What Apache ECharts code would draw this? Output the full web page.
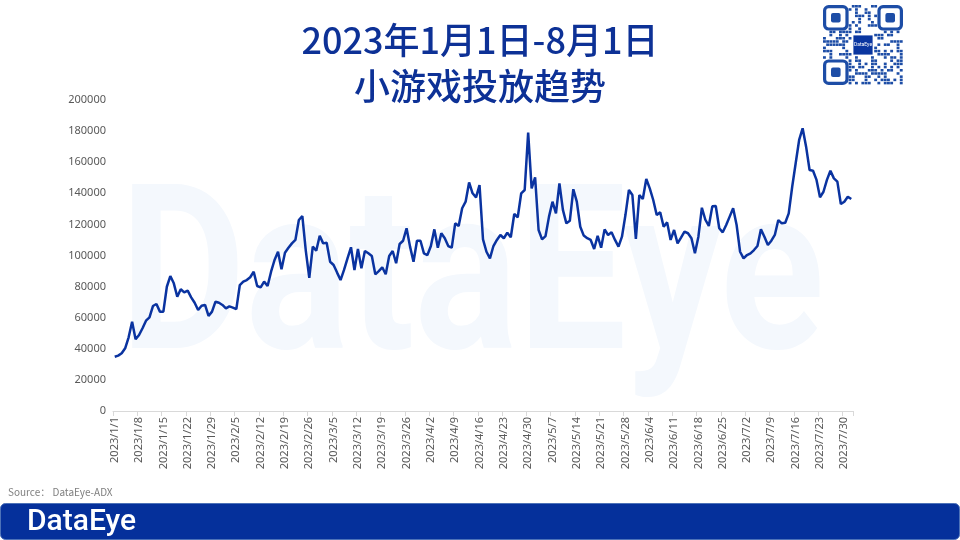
<!DOCTYPE html>
<html>
<head>
<meta charset="utf-8">
<script src="https://cdn.jsdelivr.net/npm/echarts@6/dist/echarts.min.js"></script>
<style>
html,body{margin:0;padding:0;background:#fff;}
#c{width:960px;height:540px;}
</style>
</head>
<body>
<div id="c"></div>
<script>
// ---- data (daily values, 2023/1/1 - 2023/8/1) ----
const janValues = [34900,35600,37100,40300,47400,57400,46100,48900,53200,58100,60200,67500,68800,63900,63900,79900,86800,82100,73500,78300,76300,77400,73100,69600,65000,67700,68200,61100,63900,70300,69600];
const febValues = [68200,66000,67300,66500,65500,81000,83200,84200,86000,89600,80400,79500,83200,80400,89600,97100,102400,91100,101800,105000,107800,110000,122800,125400,103000,85700,105700,103100];
const marValues = [112700,107800,108200,96000,93900,89000,84200,90700,98200,105300,90700,104200,91800,102900,101400,99700,87900,90000,92400,87900,99700,102900,95000,107400,109500,117500,105700,96000,109500,109500,101400];
const aprValues = [100300,106100,116800,105000,114300,111100,106100,105000,120700,119000,130400,134600,147000,140000,137400,145300,110400,102400,98200,106100,110000,113200,111100,114700,111700,126700,124600,140000,142100,179000];
const mayValues = [143200,150300,116400,110400,112500,125000,134600,127100,146400,129300,120700,122400,142600,134600,118500,112800,111100,110000,104200,112700,105000,116800,113200,114900,110000,105700,112100,126000,142100,138900,110600];
const junValues = [138900,136300,149200,143200,135700,126000,127800,118500,121300,110000,116400,107800,111500,115300,114300,111100,101400,112100,130700,123000,119000,131600,131800,117500,114900,119600,125000,130400,119600,102400];
const julValues = [98200,100300,101400,103500,106100,116800,112100,106800,109500,113200,122800,120700,121100,127100,144200,159300,174300,181800,170000,155000,154500,148600,137400,141000,148600,154500,149600,147500,133100,134600,137800];
const augValues = [136300];
const yTicks = [0,20000,40000,60000,80000,100000,120000,140000,160000,180000,200000];
const titleLine1 = '2023年1月1日-8月1日';
const titleLine2 = '小游戏投放趋势';
const sourceText = 'Source： DataEye-ADX';
const brandText = 'DataEye';

const values = [].concat(janValues, febValues, marValues, aprValues, mayValues, junValues, julValues, augValues);
const categories = [];
for (let i = 0; i < values.length; i++) {
  const dt = new Date(Date.UTC(2023, 0, 1) + i * 86400000);
  categories.push(dt.getUTCFullYear() + '/' + (dt.getUTCMonth() + 1) + '/' + dt.getUTCDate());
}

// ---- decorative QR-like block ----
const qr = [];
const qx = 823, qy = 5, qn = 25, qs = 80 / 25;
const qrColor = '#1d4da6';
function finder(cx, cy) {
  qr.push({type:'rect', shape:{x:cx, y:cy, width:7*qs, height:7*qs, r:4}, style:{fill:'none', stroke:qrColor, lineWidth:qs}});
  qr.push({type:'rect', shape:{x:cx+2*qs, y:cy+2*qs, width:3*qs, height:3*qs, r:2}, style:{fill:qrColor}});
}
for (let i = 0; i < qn; i++) {
  for (let j = 0; j < qn; j++) {
    const inF = (i < 8 && j < 8) || (i < 8 && j >= qn - 8) || (i >= qn - 8 && j < 8);
    const inC = i >= 9 && i <= 15 && j >= 9 && j <= 15;
    if (inF || inC) continue;
    const h = Math.sin(i * 12.9898 + j * 78.233) * 43758.5453;
    if (h - Math.floor(h) > 0.55) {
      qr.push({type:'rect', shape:{x:qx + j*qs, y:qy + i*qs, width:qs*0.9, height:qs*0.8}, style:{fill:qrColor}});
    }
  }
}
finder(qx + qs*0.5, qy + qs*0.5);
finder(qx + (qn-7)*qs - qs*0.5, qy + qs*0.5);
finder(qx + qs*0.5, qy + (qn-7)*qs - qs*0.5);
qr.push({type:'rect', shape:{x:qx + 9.5*qs, y:qy + 9.5*qs, width:6*qs, height:6*qs}, style:{fill:'#0a36a0'}});
qr.push({type:'text', x:qx + 12.5*qs, y:qy + 12.5*qs, style:{text:'DataEye', fontSize:5, fill:'#fff', align:'center', verticalAlign:'middle', fontFamily:'Roboto'}});

const titleFont = '"Noto Sans CJK SC", "Noto Sans", sans-serif';
const chart = echarts.init(document.getElementById('c'), null, {renderer:'canvas'});
chart.setOption({
  animation: false,
  backgroundColor: '#ffffff',
  grid: {left: 113, right: 107, top: 100, bottom: 129, containLabel: false},
  xAxis: {
    type: 'category',
    data: categories,
    boundaryGap: true,
    axisLine: {show: true, lineStyle: {color: '#d9d9d9', width: 1}},
    axisTick: {show: true, interval: 6, length: 5, lineStyle: {color: '#d9d9d9'}},
    axisLabel: {interval: 6, rotate: 90, fontSize: 11, color: '#595959', margin: 6, fontFamily: '"Noto Sans", sans-serif'},
    splitLine: {show: false}
  },
  yAxis: {
    type: 'value',
    min: yTicks[0],
    max: yTicks[yTicks.length - 1],
    interval: yTicks[1] - yTicks[0],
    axisLine: {show: false},
    axisTick: {show: false},
    splitLine: {show: false},
    axisLabel: {fontSize: 11, color: '#595959', margin: 7, fontFamily: '"Noto Sans", sans-serif',
      formatter: function (v) { return String(v); }}
  },
  series: [{
    type: 'line',
    data: values,
    showSymbol: false,
    symbol: 'none',
    smooth: false,
    lineStyle: {color: '#0a33a0', width: 2.5},
    z: 5
  }],
  graphic: {
    elements: [
      {type:'text', x:120, y:175, scaleX:0.84, z:-10, silent:true,
       style:{text:brandText, fontSize:230, fontWeight:'bold', fontFamily:'Roboto', fill:'#f4f8fd', verticalAlign:'top'}},
      {type:'text', x:480, y:40, style:{text:titleLine1, fontSize:36, fontWeight:500, fill:'#0d3196', align:'center', verticalAlign:'middle', fontFamily:titleFont}},
      {type:'text', x:480, y:86, style:{text:titleLine2, fontSize:36, fontWeight:500, fill:'#0d3196', align:'center', verticalAlign:'middle', fontFamily:titleFont}},
      {type:'text', x:8, y:492, style:{text:sourceText, fontSize:10, fill:'#7f7f7f', verticalAlign:'middle', fontFamily:'"Noto Sans CJK SC", sans-serif'}},
      {type:'rect', shape:{x:0.5, y:503.5, width:959, height:36, r:5}, style:{fill:'#05309b', stroke:'#4d72b8', lineWidth:1}},
      {type:'text', x:27, y:522, style:{text:brandText, fontSize:30, fontWeight:500, fill:'#ffffff', verticalAlign:'middle', fontFamily:'Roboto'}},
      {type:'group', children: qr}
    ]
  }
});
</script>
</body>
</html>
